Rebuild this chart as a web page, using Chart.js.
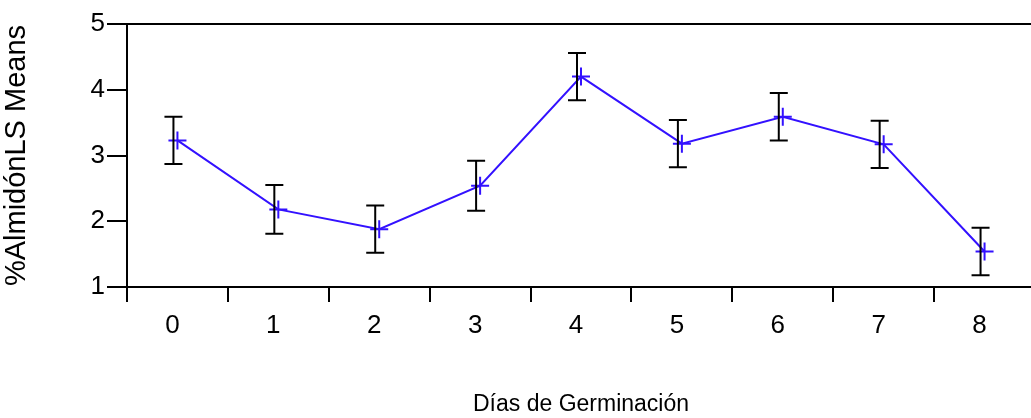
<!DOCTYPE html>
<html>
<head>
<meta charset="utf-8">
<script src="https://cdn.jsdelivr.net/npm/chart.js@4/dist/chart.umd.min.js"></script>
<style>
  html, body { margin: 0; padding: 0; background: #fff; overflow: hidden; }
  #wrap { width: 1046px; height: 418px; }
</style>
</head>
<body>
<div id="wrap"><canvas id="chart"></canvas></div>
<script>
// Días de germinación (categorías)
const dias = ['0', '1', '2', '3', '4', '5', '6', '7', '8'];
// medias LS de % almidón
const medias = [3.23, 2.18, 1.88, 2.54, 4.2, 3.18, 3.59, 3.17, 1.54];
// error estándar (barra = media ± err)
const errores = [0.36, 0.37, 0.36, 0.38, 0.36, 0.36, 0.36, 0.36, 0.36];
const yTicks = [1, 2, 3, 4, 5];

const blue = '#3311ff';
const fontFam = '"Liberation Sans", Arial, sans-serif';

// barras de error + marco superior
const errorBars = {
  id: 'errorBars',
  afterDatasetsDraw(chart) {
    const { ctx, chartArea, scales } = chart;
    const meta = chart.getDatasetMeta(0);
    ctx.save();
    ctx.strokeStyle = '#000';
    ctx.lineWidth = 2;
    meta.data.forEach((pt, i) => {
      const x = pt.x - 4;
      const top = scales.y.getPixelForValue(medias[i] + errores[i]);
      const bot = scales.y.getPixelForValue(medias[i] - errores[i]);
      ctx.beginPath();
      ctx.moveTo(x, top); ctx.lineTo(x, bot);
      ctx.moveTo(x - 9, top); ctx.lineTo(x + 9, top);
      ctx.moveTo(x - 9, bot); ctx.lineTo(x + 9, bot);
      ctx.stroke();
    });
    ctx.beginPath();
    ctx.moveTo(chartArea.left, chartArea.top);
    ctx.lineTo(chartArea.right, chartArea.top);
    ctx.stroke();
    ctx.restore();
  }
};

new Chart(document.getElementById('chart'), {
  type: 'line',
  data: {
    labels: dias,
    datasets: [{
      data: medias,
      borderColor: blue,
      borderWidth: 2,
      pointStyle: 'cross',
      pointRadius: 9,
      pointBorderWidth: 2,
      pointBorderColor: blue,
      pointBackgroundColor: blue,
      fill: false,
      tension: 0
    }]
  },
  options: {
    responsive: true,
    maintainAspectRatio: false,
    animation: false,
    layout: { padding: { top: 24, right: 4, left: 0, bottom: 0 } },
    plugins: { legend: { display: false }, tooltip: { enabled: false } },
    scales: {
      x: {
        type: 'category',
        offset: true,
        afterFit: (s) => { s.height = 131; },
        grid: {
          offset: true,
          drawOnChartArea: false,
          drawTicks: true,
          tickLength: 15,
          color: '#000',
          lineWidth: 2
        },
        border: { display: true, color: '#000', width: 2 },
        ticks: {
          color: '#000',
          padding: 8,
          labelOffset: -5,
          font: { family: fontFam, size: 26 }
        },
        title: {
          display: true,
          text: 'Días de Germinación',
          color: '#000',
          font: { family: fontFam, size: 23 },
          padding: { top: 0, bottom: 0 }
        }
      },
      y: {
        min: 1,
        max: 5,
        afterFit: (s) => { s.width = 127; },
        afterBuildTicks: (s) => {
          const t = [];
          yTicks.forEach((v, i) => {
            t.push({ value: v });
            if (i < yTicks.length - 1) t.push({ value: (v + yTicks[i + 1]) / 2 });
          });
          s.ticks = t;
        },
        grid: {
          drawOnChartArea: false,
          drawTicks: true,
          tickLength: 20,
          color: '#000',
          lineWidth: 2
        },
        border: { display: true, color: '#000', width: 2 },
        ticks: {
          color: '#000',
          padding: 2,
          font: { family: fontFam, size: 26 },
          callback: (v) => (yTicks.includes(v) ? String(v) : '')
        },
        title: {
          display: true,
          text: '%AlmidónLS Means',
          color: '#000',
          font: { family: fontFam, size: 29 },
          padding: { top: 0, bottom: 4 }
        }
      }
    }
  },
  plugins: [errorBars]
});
</script>
</body>
</html>
